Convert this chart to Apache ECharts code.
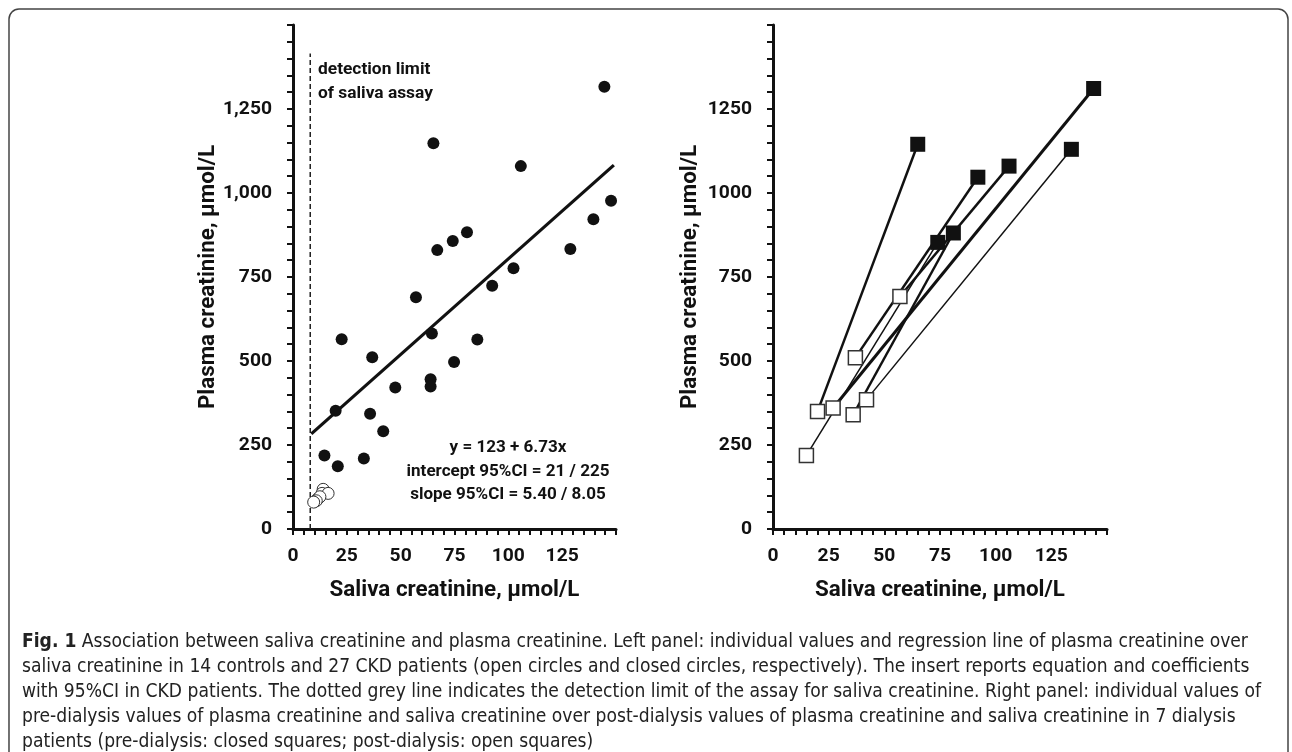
<!DOCTYPE html>
<html><head><meta charset="utf-8">
<script src="https://cdn.jsdelivr.net/npm/echarts@6/dist/echarts.min.js"></script>
<style>html,body{margin:0;padding:0;background:#fff}#c{width:1292px;height:752px}</style>
</head><body><div id="c"></div>
<script>
// ---------- Left panel data ----------
const ckdSaliva = [144.6, 65.2, 105.8, 147.7, 139.5, 67, 74.2, 80.8, 128.8, 102.4, 92.5, 57.1, 64.5, 22.6, 85.6, 36.8, 74.8, 63.9, 63.9, 47.5, 19.8, 35.8, 41.9, 14.6, 32.9, 20.8];
const ckdPlasma = [1316, 1148, 1080, 977, 922, 830, 857, 883, 833, 776, 724, 690, 582, 565, 564, 511, 497, 446, 424, 421, 352, 343, 291, 219, 210, 187];
const ctrlSaliva = [14, 13.5, 16.3, 11.5, 12.5, 10.8, 9.6];
const ctrlPlasma = [118, 106, 106, 90, 96, 84, 80];
const regSaliva = [8.5, 149];
const regPlasma = [283, 1083];
const detectionLimit = [8, 8];
const detectionRange = [0, 1415];
// ---------- Right panel data ----------
const postSaliva = [20, 27, 42, 36, 15, 37, 57];
const postPlasma = [350, 360, 385, 340, 219, 510, 692];
const preSaliva = [65, 144, 134, 81, 74, 92, 106];
const prePlasma = [1145, 1311, 1130, 881, 853, 1047, 1080];
// ---------- Tick labels / texts ----------
const xTickValues = [0, 25, 50, 75, 100, 125];
const yTickValues = [0, 250, 500, 750, 1000, 1250];
const yTickTextLeft = ['0', '250', '500', '750', '1,000', '1,250'];
const yTickTextRight = ['0', '250', '500', '750', '1000', '1250'];
const xTitle = 'Saliva creatinine, µmol/L';
const yTitle = 'Plasma creatinine, µmol/L';
const detectionText = ['detection limit', 'of saliva assay'];
const equationText = ['y = 123 + 6.73x', 'intercept 95%CI = 21 / 225', 'slope 95%CI = 5.40 / 8.05'];
const captionLines = [
  'Association between saliva creatinine and plasma creatinine. Left panel: individual values and regression line of plasma creatinine over',
  'saliva creatinine in 14 controls and 27 CKD patients (open circles and closed circles, respectively). The insert reports equation and coefficients',
  'with 95%CI in CKD patients. The dotted grey line indicates the detection limit of the assay for saliva creatinine. Right panel: individual values of',
  'pre-dialysis values of plasma creatinine and saliva creatinine over post-dialysis values of plasma creatinine and saliva creatinine in 7 dialysis',
  'patients (pre-dialysis: closed squares; post-dialysis: open squares)'
];
const captionLead = 'Fig. 1';

// ---------- styles ----------
const pairWidths = [2.5, 3, 1.5, 2.5, 1.5, 2.5, 2.5];
const F = "Roboto, 'DejaVu Sans Condensed', sans-serif";
const CF = "'DejaVu Sans Condensed', 'Open Sans', sans-serif";
const INK = '#111';

// fit font sizes to the widths seen in the figure
const mctx = document.createElement('canvas').getContext('2d');
function fit(text, weight, family, target, lo, hi) {
  mctx.font = weight + ' 20px ' + family;
  const s = 20 * target / mctx.measureText(text).width;
  return Math.max(lo, Math.min(hi, s));
}
const tickSize = fit('1,250', 'bold', F, 49, 15, 21);
const titleSize = fit(xTitle, 'bold', F, 250, 17, 24);
const detSize = fit(detectionText[1], 'bold', F, 115, 14, 20);
const eqSize = fit(equationText[1], 'bold', F, 203, 14, 21);
const capSize = fit(captionLines[2], 'normal', CF, 1240, 13, 20);

const chart = echarts.init(document.getElementById('c'), null, {renderer: 'canvas'});

function xAxis(gi) {
  return {
    type: 'value', gridIndex: gi, min: 0, max: 150, interval: 5,
    axisLine: {show: true, onZero: false, lineStyle: {color: INK, width: 3}},
    axisTick: {show: true, length: 6, lineStyle: {color: INK, width: 2}},
    axisLabel: {margin: 18, color: INK, fontFamily: F, fontWeight: 'bold', fontSize: tickSize,
      formatter: v => xTickValues.indexOf(v) >= 0 ? String(v) : ''},
    splitLine: {show: false},
    name: xTitle, nameLocation: 'middle', nameGap: 50,
    nameTextStyle: {color: INK, fontFamily: F, fontWeight: 'bold', fontSize: titleSize}
  };
}
function yAxis(gi, texts) {
  return {
    type: 'value', gridIndex: gi, min: 0, max: 1500, interval: 50,
    axisLine: {show: true, onZero: false, lineStyle: {color: INK, width: 3}},
    axisTick: {show: true, length: 6, lineStyle: {color: INK, width: 2}},
    axisLabel: {margin: 21, color: INK, fontFamily: F, fontWeight: 'bold', fontSize: tickSize,
      formatter: v => { const i = yTickValues.indexOf(v); return i >= 0 ? texts[i] : ''; }},
    splitLine: {show: false},
    name: yTitle, nameLocation: 'middle', nameGap: 72,
    nameTextStyle: {color: INK, fontFamily: F, fontWeight: 'bold', fontSize: titleSize}
  };
}

const zip = (a, b) => a.map((v, i) => [v, b[i]]);

const series = [];
series.push({type: 'line', xAxisIndex: 0, yAxisIndex: 0, data: zip(detectionLimit, detectionRange),
  symbol: 'none', lineStyle: {color: '#222', width: 1.5, type: [5, 3]}, z: 2, silent: true});
series.push({type: 'line', xAxisIndex: 0, yAxisIndex: 0, data: zip(regSaliva, regPlasma),
  symbol: 'none', lineStyle: {color: INK, width: 3.2}, z: 3, silent: true});
series.push({type: 'scatter', xAxisIndex: 0, yAxisIndex: 0, data: zip(ckdSaliva, ckdPlasma),
  symbol: 'circle', symbolSize: 12, itemStyle: {color: INK, opacity: 1}, z: 5, silent: true});
series.push({type: 'scatter', xAxisIndex: 0, yAxisIndex: 0, data: zip(ctrlSaliva, ctrlPlasma),
  symbol: 'circle', symbolSize: 12, itemStyle: {color: '#fff', borderColor: '#333', borderWidth: 1, opacity: 1}, z: 5, silent: true});
preSaliva.forEach((_, i) => {
  series.push({type: 'line', xAxisIndex: 1, yAxisIndex: 1,
    data: [[postSaliva[i], postPlasma[i]], [preSaliva[i], prePlasma[i]]],
    symbol: 'none', lineStyle: {color: INK, width: pairWidths[i]}, z: 3, silent: true});
});
series.push({type: 'scatter', xAxisIndex: 1, yAxisIndex: 1, data: zip(postSaliva, postPlasma),
  symbol: 'rect', symbolSize: 14, itemStyle: {color: '#fff', borderColor: '#333', borderWidth: 1.5, opacity: 1}, z: 6, silent: true});
series.push({type: 'scatter', xAxisIndex: 1, yAxisIndex: 1, data: zip(preSaliva, prePlasma),
  symbol: 'rect', symbolSize: 15, itemStyle: {color: INK, opacity: 1}, z: 6, silent: true});

const graphic = [
  {type: 'rect', shape: {x: 9, y: 9, width: 1279, height: 800, r: 10},
   style: {fill: 'none', stroke: '#444', lineWidth: 1.5}, silent: true, z: 0},
  {type: 'text', x: 318, y: 70, style: {text: detectionText[0], fill: INK, font: 'bold ' + detSize + 'px ' + F, verticalAlign: 'middle', align: 'left'}},
  {type: 'text', x: 318, y: 94, style: {text: detectionText[1], fill: INK, font: 'bold ' + detSize + 'px ' + F, verticalAlign: 'middle', align: 'left'}}
];
equationText.forEach((t, i) => {
  graphic.push({type: 'text', x: 508, y: 448 + i * 23.5,
    style: {text: t, fill: INK, font: 'bold ' + eqSize + 'px ' + F, verticalAlign: 'middle', align: 'center'}});
});
captionLines.forEach((t, i) => {
  const txt = i === 0 ? '{b|' + captionLead + '} ' + t : t;
  graphic.push({type: 'text', x: 22, y: 642 + i * 25,
    style: {text: txt, fill: '#222', fontFamily: CF, fontSize: capSize, verticalAlign: 'middle', align: 'left',
      rich: {b: {fontFamily: CF, fontSize: capSize, fontWeight: 'bold', fill: '#222'}}}});
});

chart.setOption({
  animation: false,
  backgroundColor: '#fff',
  grid: [
    {left: 293, top: 25, width: 323, height: 504, containLabel: false},
    {left: 773, top: 25, width: 334, height: 504, containLabel: false}
  ],
  xAxis: [xAxis(0), xAxis(1)],
  yAxis: [yAxis(0, yTickTextLeft), yAxis(1, yTickTextRight)],
  series: series,
  graphic: graphic
});
</script>
</body></html>
